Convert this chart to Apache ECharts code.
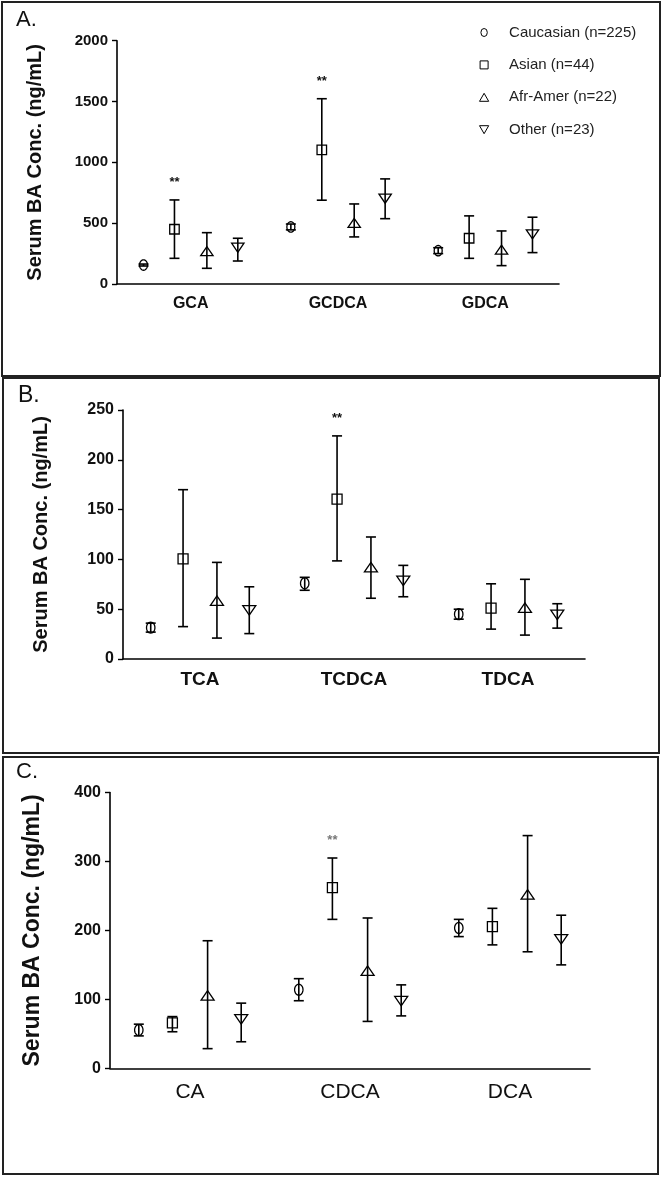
<!DOCTYPE html>
<html>
<head>
<meta charset="utf-8">
<script src="https://cdn.jsdelivr.net/npm/echarts@6/dist/echarts.min.js"></script>
<style>
html,body{margin:0;padding:0;background:#fff;}
#chart{width:663px;height:1178px;}
</style>
</head>
<body>
<div id="chart"></div>
<script>
// ---------- DATA ----------
const groups = ['Caucasian (n=225)', 'Asian (n=44)', 'Afr-Amer (n=22)', 'Other (n=23)'];

const catsA = ['GCA', 'GCDCA', 'GDCA'];
const ticksA = [0, 500, 1000, 1500, 2000];
const meanA = [[156, 469, 274], [450, 1103, 376], [261, 494, 274], [307, 710, 417]];
const lowA  = [[148, 445, 250], [211, 689, 211], [129, 387, 151], [189, 537, 258]];
const highA = [[164, 493, 298], [691, 1523, 560], [422, 658, 436], [376, 864, 549]];
const sigA  = [[0, 0, 0], [1, 1, 0], [0, 0, 0], [0, 0, 0]];

const catsB = ['TCA', 'TCDCA', 'TDCA'];
const ticksB = [0, 50, 100, 150, 200, 250];
const meanB = [[31.5, 76, 45], [100.5, 160.5, 51], [57.5, 91, 50.5], [50, 79.5, 45.5]];
const lowB  = [[27, 69, 40], [32.5, 98.5, 30], [21, 61, 24], [25.5, 62.5, 31]];
const highB = [[36, 82, 50], [170, 224, 75.5], [97, 122.5, 80], [72.5, 94, 55.5]];
const sigB  = [[0, 0, 0], [0, 1, 0], [0, 0, 0], [0, 0, 0]];

const catsC = ['CA', 'CDCA', 'DCA'];
const ticksC = [0, 100, 200, 300, 400];
const meanC = [[55.5, 114, 203.5], [66, 262, 205.5], [104, 140, 250.5], [72.5, 99, 188.5]];
const lowC  = [[47, 98, 191], [53, 216, 179], [28.5, 68, 169], [38.5, 76, 150]];
const highC = [[64, 130, 216], [75, 305, 232], [185, 218, 337.5], [94.5, 121, 222]];
const sigC  = [[0, 0, 0], [0, 1, 0], [0, 0, 0], [0, 0, 0]];

const yTitle = 'Serum BA Conc. (ng/mL)';
const sigText = '**';

// ---------- LAYOUT / STYLE ----------
const FONT = "'Liberation Sans', Arial, Helvetica, sans-serif";
const groupOffsets = [-0.32, -0.11, 0.11, 0.32]; // fraction of category band
const markerShapes = ['ellipse', 'square', 'up', 'down'];

const panels = [
  { cats: catsA, ticks: ticksA, mean: meanA, low: lowA, high: highA, sig: sigA,
    grid: { left: 117, top: 40.7, width: 442, height: 243.3 },
    titleSize: 20, titleGap: 72, tickSize: 15, catSize: 16, catWeight: 'bold', catMargin: 12,
    msize: 9.5, sigColor: '#111' },
  { cats: catsB, ticks: ticksB, mean: meanB, low: lowB, high: highB, sig: sigB,
    grid: { left: 123, top: 410, width: 462, height: 249 },
    titleSize: 20, titleGap: 72, tickSize: 16, catSize: 19, catWeight: 'bold', catMargin: 11,
    msize: 10, sigColor: '#111' },
  { cats: catsC, ticks: ticksC, mean: meanC, low: lowC, high: highC, sig: sigC,
    grid: { left: 110, top: 792.5, width: 480, height: 275.8 },
    titleSize: 23, titleGap: 66, tickSize: 16, catSize: 21, catWeight: 'normal', catMargin: 13,
    msize: 10, sigColor: '#777' }
];

function markerShape(kind, cx, cy, s) {
  const st = { fill: 'none', stroke: '#000', lineWidth: 1.3 };
  if (kind === 'ellipse') {
    const rx = s * 0.42, ry = s * 0.55, pts = [];
    for (let k = 0; k < 28; k++) {
      const a = (k / 28) * Math.PI * 2;
      pts.push([cx + rx * Math.cos(a), cy + ry * Math.sin(a)]);
    }
    return { type: 'polygon', shape: { points: pts }, style: st };
  }
  if (kind === 'square') {
    return { type: 'rect', shape: { x: cx - s / 2, y: cy - s / 2, width: s, height: s }, style: st };
  }
  const w = s * 1.3, h = s * 0.95;
  if (kind === 'up') {
    return { type: 'polygon', shape: { points: [[cx, cy - h * 0.62], [cx - w / 2, cy + h * 0.38], [cx + w / 2, cy + h * 0.38]] }, style: st };
  }
  return { type: 'polygon', shape: { points: [[cx - w / 2, cy - h * 0.38], [cx + w / 2, cy - h * 0.38], [cx, cy + h * 0.62]] }, style: st };
}

const grids = [], xAxes = [], yAxes = [], series = [];
panels.forEach((p, pi) => {
  grids.push(Object.assign({ containLabel: false }, p.grid));
  xAxes.push({
    type: 'category', gridIndex: pi, data: p.cats, boundaryGap: true,
    axisLine: { lineStyle: { color: '#000', width: 1.6 } },
    axisTick: { alignWithLabel: true, length: 6, lineStyle: { color: '#000', width: 1.4 } },
    axisLabel: { fontFamily: FONT, fontSize: p.catSize, fontWeight: p.catWeight, color: '#111', margin: p.catMargin },
    splitLine: { show: false }
  });
  const tk = p.ticks;
  yAxes.push({
    type: 'value', gridIndex: pi, min: tk[0], max: tk[tk.length - 1], interval: tk[1] - tk[0],
    name: yTitle, nameLocation: 'middle', nameRotate: 90, nameGap: p.titleGap,
    nameTextStyle: { fontFamily: FONT, fontSize: p.titleSize, fontWeight: 'bold', color: '#111' },
    axisLine: { show: true, lineStyle: { color: '#000', width: 1.6 } },
    axisTick: { show: true, length: 5, lineStyle: { color: '#000', width: 1.4 } },
    axisLabel: { fontFamily: FONT, fontSize: p.tickSize, fontWeight: 'bold', color: '#111', margin: 9,
                 formatter: function (v) { return String(v); } },
    splitLine: { show: false }
  });
  groups.forEach((g, gi) => {
    const data = p.cats.map((c, ci) => [ci, p.mean[gi][ci], p.low[gi][ci], p.high[gi][ci], p.sig[gi][ci]]);
    series.push({
      type: 'custom', name: g, xAxisIndex: pi, yAxisIndex: pi,
      itemStyle: { color: '#fff', borderColor: '#000' },
      encode: { x: 0, y: [1, 2, 3] },
      data: data,
      renderItem: function (params, api) {
        const ci = api.value(0);
        const band = api.size([1, 0])[0];
        const pm = api.coord([ci, api.value(1)]);
        const cx = pm[0] + groupOffsets[gi] * band;
        const yM = pm[1];
        const yL = api.coord([ci, api.value(2)])[1];
        const yH = api.coord([ci, api.value(3)])[1];
        const cap = 5;
        const ls = { stroke: '#000', lineWidth: 1.6 };
        const children = [
          markerShape(markerShapes[gi], cx, yM, p.msize),
          { type: 'line', shape: { x1: cx, y1: yL, x2: cx, y2: yH }, style: ls },
          { type: 'line', shape: { x1: cx - cap, y1: yH, x2: cx + cap, y2: yH }, style: ls },
          { type: 'line', shape: { x1: cx - cap, y1: yL, x2: cx + cap, y2: yL }, style: ls }
        ];
        if (api.value(4)) {
          children.push({
            type: 'text',
            style: { text: sigText, x: cx, y: yH - 11, textAlign: 'center', textVerticalAlign: 'bottom',
                     font: 'bold 13px ' + FONT, fill: p.sigColor }
          });
        }
        return { type: 'group', children: children };
      }
    });
  });
});

const legendIcons = [
  'path://M5,0 A4,5 0 1,1 5,10 A4,5 0 1,1 5,0 Z',
  'path://M0,0L10,0L10,10L0,10Z',
  'path://M5,0L10,8.7L0,8.7Z',
  'path://M0,0L10,0L5,8.7Z'
];

const option = {
  animation: false,
  backgroundColor: '#fff',
  grid: grids,
  xAxis: xAxes,
  yAxis: yAxes,
  legend: {
    orient: 'vertical', left: 474, top: 20, itemGap: 17.4,
    itemWidth: 40, itemHeight: 8, symbolKeepAspect: true,
    data: groups.map((g, i) => ({ name: g, icon: legendIcons[i] })),
    itemStyle: { color: '#fff', borderColor: '#000', borderWidth: 1 },
    textStyle: { fontFamily: FONT, fontSize: 15, color: '#222' },
    selectedMode: false
  },
  graphic: [
    { type: 'rect', shape: { x: 2, y: 2, width: 658, height: 374 }, style: { fill: 'none', stroke: '#222', lineWidth: 2 }, silent: true },
    { type: 'rect', shape: { x: 3, y: 378, width: 656, height: 375 }, style: { fill: 'none', stroke: '#222', lineWidth: 2 }, silent: true },
    { type: 'rect', shape: { x: 3, y: 757, width: 655, height: 417 }, style: { fill: 'none', stroke: '#222', lineWidth: 2 }, silent: true },
    { type: 'text', left: 16, top: 9, style: { text: 'A.', font: '22px ' + FONT, fill: '#111' } },
    { type: 'text', left: 18, top: 384, style: { text: 'B.', font: '23px ' + FONT, fill: '#111' } },
    { type: 'text', left: 16, top: 761, style: { text: 'C.', font: '22px ' + FONT, fill: '#111' } }
  ],
  series: series
};

const chart = echarts.init(document.getElementById('chart'), null, { renderer: 'canvas' });
chart.setOption(option);
</script>
</body>
</html>
